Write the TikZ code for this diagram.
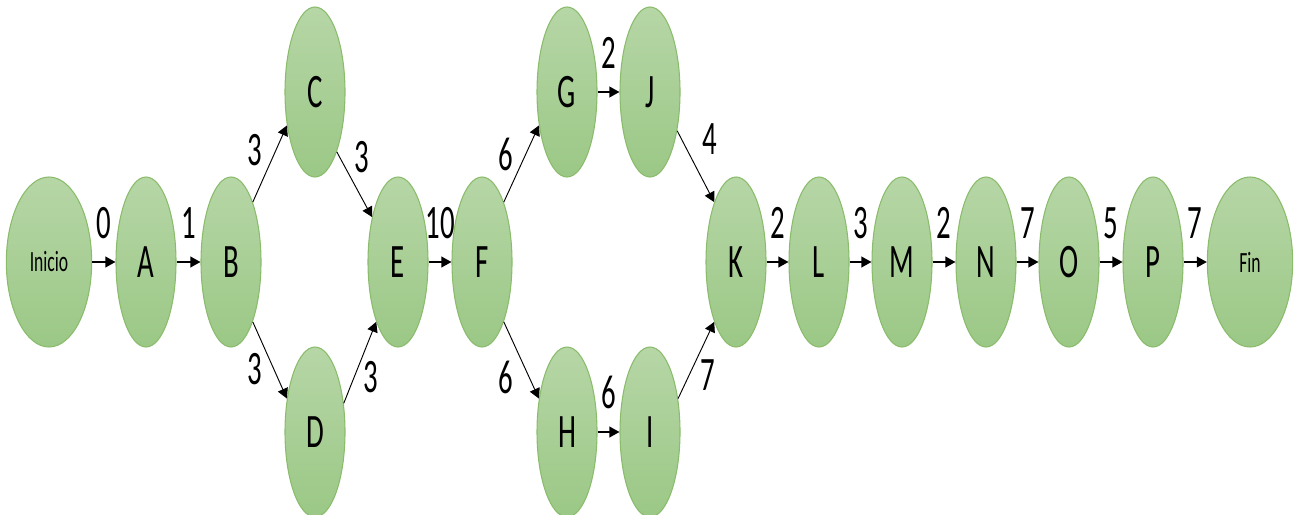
\documentclass[tikz,border=0pt]{standalone}
\usepackage{fontspec}
\setmainfont[FakeStretch=0.6]{Carlito}
\usetikzlibrary{arrows.meta,shapes.geometric}
\definecolor{acttop}{RGB}{182,214,166}
\definecolor{actbot}{RGB}{155,200,134}
\definecolor{actline}{RGB}{138,188,108}

\begin{document}
\begin{tikzpicture}[x=0.75pt, y=-0.75pt, >={Triangle[length=7.5pt,width=8pt]},
    act/.style={ellipse, draw=actline, line width=0.8pt, top color=acttop, bottom color=actbot,
                minimum width=45pt, minimum height=127.5pt, inner sep=0pt,
                font=\fontsize{36}{40}\selectfont},
    ends/.style={act, minimum width=64pt, font=\fontsize{22}{26}\selectfont},
    lbl/.style={inner sep=0pt, font=\fontsize{36}{40}\selectfont},
    flow/.style={->, line width=1.2pt},
    branch/.style={->, line width=0.7pt}]
    \useasboundingbox (0,0) rectangle (1301,514);
    % main line
    \node[ends] (ini) at (49,262) {Inicio};
    \node[act] (A) at (146,262) {A};
    \node[act] (B) at (231,262) {B};
    \node[act] (C) at (315,92) {C};
    \node[act] (D) at (315,432) {D};
    \node[act] (E) at (398,262) {E};
    \node[act] (F) at (482,262) {F};
    \node[act] (G) at (567,92) {G};
    \node[act] (J) at (650,92) {J};
    \node[act] (H) at (567,432) {H};
    \node[act] (I) at (650,432) {I};
    \node[act] (K) at (736,262) {K};
    \node[act] (L) at (819,262) {L};
    \node[act] (M) at (902,262) {M};
    \node[act] (N) at (986,262) {N};
    \node[act] (O) at (1069,262) {O};
    \node[act] (P) at (1153,262) {P};
    \node[ends] (fin) at (1250,262) {Fin};
    % horizontal arrows
    \draw[flow] (ini) -- node[lbl, above=17pt] {0} (A);
    \draw[flow] (A) -- node[lbl, above=17pt] {1} (B);
    \draw[flow] (E) -- node[lbl, above=17pt] {10} (F);
    \draw[flow] (G) -- node[lbl, above=17pt] {2} (J);
    \draw[flow] (H) -- node[lbl, above=17pt] {6} (I);
    \draw[flow] (K) -- node[lbl, above=17pt] {2} (L);
    \draw[flow] (L) -- node[lbl, above=17pt] {3} (M);
    \draw[flow] (M) -- node[lbl, above=17pt] {2} (N);
    \draw[flow] (N) -- node[lbl, above=17pt] {7} (O);
    \draw[flow] (O) -- node[lbl, above=17pt] {5} (P);
    \draw[flow] (P) -- node[lbl, above=17pt] {7} (fin);
    % branches
    \draw[branch] (B.70) -- node[lbl, pos=0.68, left=10pt] {3} (C.230);
    \draw[branch] (B.290) -- node[lbl, pos=0.61, left=8pt] {3} (D.130);
    \draw[branch] (C.290) -- node[lbl, pos=0.08, right=11pt] {3} (E.120);
    \draw[branch] (D.45) -- node[lbl, pos=0.32, right=7pt] {3} (E.250);
    \draw[branch] (F.70) -- node[lbl, pos=0.62, left=9pt] {6} (G.230);
    \draw[branch] (F.290) -- node[lbl, pos=0.73, left=12pt] {6} (H.130);
    \draw[branch] (J.305) -- node[lbl, pos=0.12, right=15pt] {4} (K.110);
    \draw[branch] (I.50) -- node[lbl, pos=0.31, right=8pt] {7} (K.250);
\end{tikzpicture}
\end{document}
